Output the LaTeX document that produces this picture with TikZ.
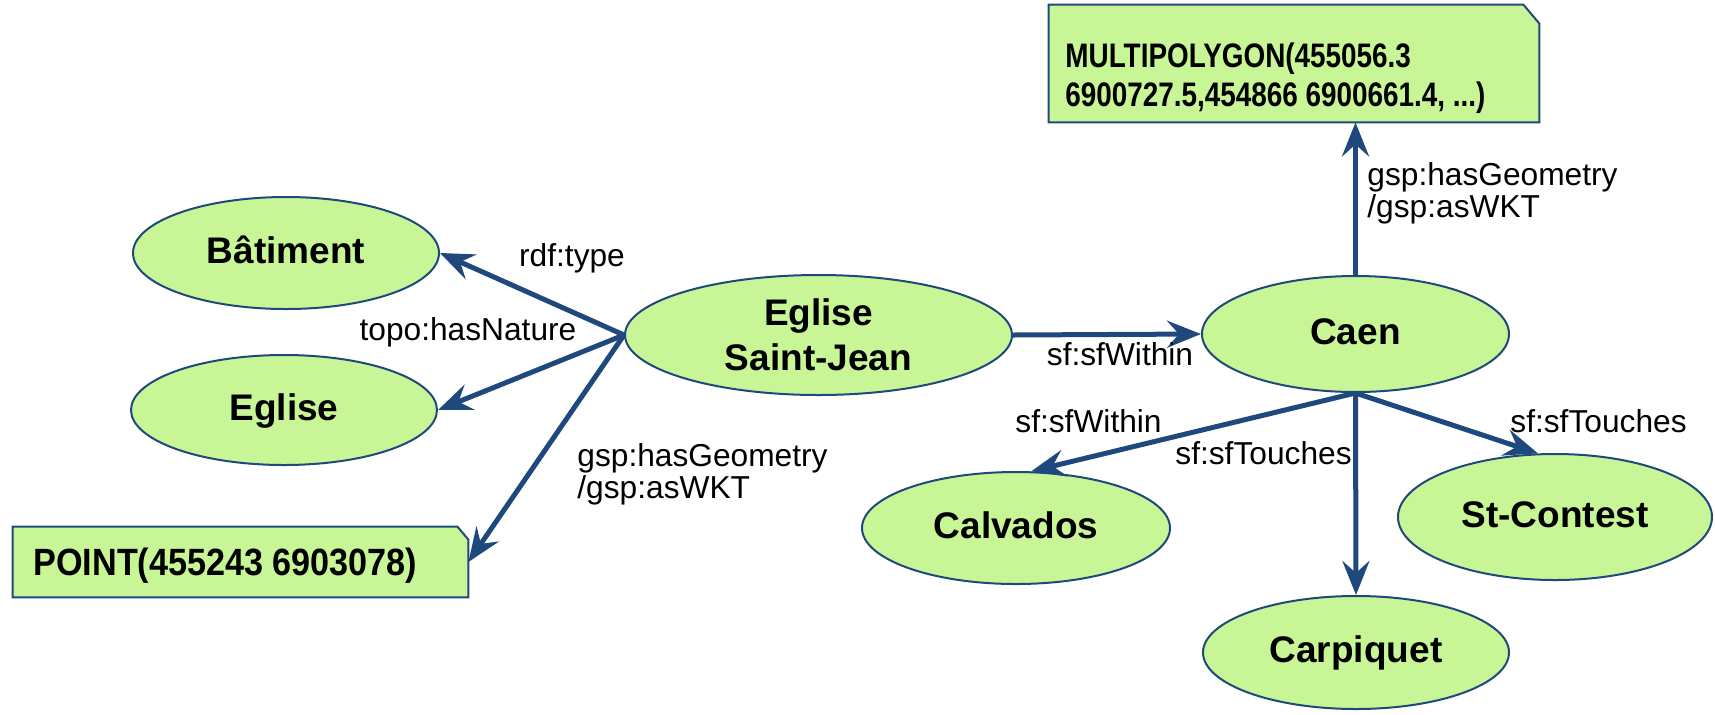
\documentclass[tikz,border=0pt]{standalone}
\usepackage{fontspec}
\setmainfont{Liberation Sans}
\newfontfamily\narrowsans[FakeStretch=0.82]{Liberation Sans}
\newfontfamily\pointsans[FakeStretch=0.9]{Liberation Sans}
\usetikzlibrary{shapes.geometric,arrows.meta}

\definecolor{nodegreen}{HTML}{C8F696}
\definecolor{edgeblue}{HTML}{1F497D}

\tikzset{
    concept/.style={ellipse, draw=edgeblue, line width=1pt, fill=nodegreen,
        inner sep=0pt, align=center, font=\bfseries\fontsize{18.5}{22.5}\selectfont},
    oneline/.style={text height=13.9pt, text depth=3.7pt},
    rel/.style={draw=edgeblue, line width=2.5pt,
        -{Stealth[length=17pt,width=13.5pt,inset=6pt]}},
    lbl/.style={inner sep=0pt, align=left, font=\fontsize{15.85}{16}\selectfont},
    littext/.style={inner sep=0pt, align=left},
    litbox/.style={draw=edgeblue, line width=1pt, fill=nodegreen},
}

\begin{document}
\begin{tikzpicture}[x=0.5pt, y=-0.5pt]
    \useasboundingbox (0,0) rectangle (1715,714);

    % resources
    \node[concept, oneline, minimum width=153pt, minimum height=56pt] (batiment) at (286,253) {Bâtiment};
    \node[concept, oneline, minimum width=153pt, minimum height=55pt] (eglise) at (284,410) {Eglise};
    \node[concept, minimum width=193.5pt, minimum height=60pt] (stjean) at (818.5,335) {Eglise\\Saint-Jean};
    \node[concept, oneline, minimum width=153.5pt, minimum height=58pt] (caen) at (1355.5,334) {Caen};
    \node[concept, oneline, minimum width=154pt, minimum height=56pt] (calvados) at (1016,528) {Calvados};
    \node[concept, oneline, minimum width=153pt, minimum height=56.5pt] (carpiquet) at (1356,652.5) {Carpiquet};
    \node[concept, oneline, minimum width=157pt, minimum height=63pt] (stcontest) at (1555,517) {St-Contest};

    % literals
    \node[minimum width=245pt, minimum height=58.5pt, inner sep=0pt] (wkt) at (1294,63.5) {};
    \filldraw[litbox] (wkt.south west) -- (wkt.north west) -- ([xshift=-8pt]wkt.north east)
        -- ([yshift=-9.5pt]wkt.north east) -- (wkt.south east) -- cycle;
    \node[littext, font=\narrowsans\bfseries\fontsize{17}{19.5}\selectfont, anchor=west] (wkttxt)
        at (1065,78.7) {MULTIPOLYGON(455056.3\\6900727.5,454866 6900661.4, ...)};

    \node[minimum width=227.5pt, minimum height=35pt, inner sep=0pt] (point) at (240.5,562) {};
    \filldraw[litbox] (point.south west) -- (point.north west) -- ([xshift=-5.5pt]point.north east)
        -- ([yshift=-6.5pt]point.north east) -- (point.south east) -- cycle;
    \node[littext, font=\pointsans\bfseries\fontsize{19}{22}\selectfont, anchor=base west] (pointtxt)
        at (33,575) {POINT(455243 6903078)};

    % properties
    \draw[rel] (stjean.west) -- (batiment.east);
    \draw[rel] (stjean.west) -- (eglise.east);
    \draw[rel] (stjean.west) -- (point.east);
    \draw[rel] (stjean.east) -- (caen.west);
    \draw[rel] (caen.north) -- (caen.north |- wkt.south);
    \draw[rel] (caen.south) -- (calvados.75);
    \draw[rel] (caen.south) -- (carpiquet.north);
    \draw[rel] (caen.south) -- (stcontest.105);

    \node[lbl, anchor=base] (ltype) at (572,266) {rdf:type};
    \node[lbl, anchor=base] (lnature) at (468,340) {topo:hasNature};
    \node[lbl, anchor=west] (lgeom) at (577,474) {gsp:hasGeometry\\/gsp:asWKT};
    \node[lbl, anchor=base] (lwithin) at (1120,365) {sf:sfWithin};
    \node[lbl, anchor=west] (lgeomcaen) at (1367,193) {gsp:hasGeometry\\/gsp:asWKT};
    \node[lbl, anchor=base] (lwithincalv) at (1088.5,432) {sf:sfWithin};
    \node[lbl, anchor=base] (ltouchcarp) at (1263.5,464) {sf:sfTouches};
    \node[lbl, anchor=base] (ltouchcont) at (1598.5,432) {sf:sfTouches};
\end{tikzpicture}
\end{document}
